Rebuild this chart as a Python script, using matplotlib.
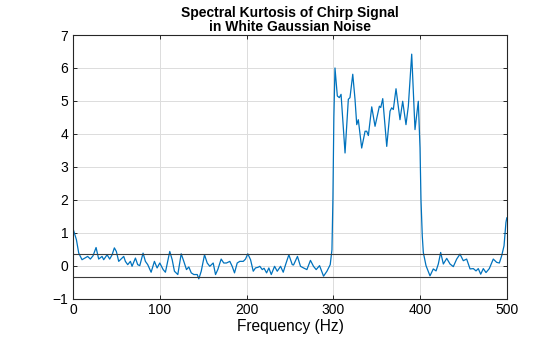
import matplotlib.pyplot as plt

# frequency (Hz) and spectral kurtosis values
freq = [0, 3.5, 6.2, 10, 13.9, 16.5, 19.6, 22.7, 26.2, 29.2, 33.1, 35, 38.9, 41.9,
        44.7, 47.3, 49.6, 52.3, 55, 58.1, 60, 62.7, 65.8, 67.7, 71.6, 74.2, 76.6,
        80.4, 83.1, 85.8, 89.7, 93.5, 96.6, 99.7, 103.6, 106.2, 111.2, 114, 116.6,
        120.5, 124.4, 127.4, 130.5, 133.2, 136, 139, 142.9, 144.7, 147.5, 151.3,
        154.4, 157.4, 161.3, 164, 166.6, 170.5, 173.5, 176.6, 180.5, 183.2, 185.9,
        189, 192, 196, 198.6, 201.2, 204.4, 207.5, 210.1, 213, 215.1, 217.9, 220,
        222.9, 225.5, 228.3, 232.1, 235.2, 239, 242.1, 244.8, 248.6, 252.5, 254,
        258.5, 262, 265.5, 269.4, 273.5, 277, 280.1, 284, 288.6, 292.5, 296.3,
        298.3, 299.4, 300.5, 301.8, 304.5, 306.8, 308.8, 313.4, 317.2, 319.1,
        322.3, 324.9, 326.9, 328.7, 332.6, 336.5, 338.4, 340.3, 344.2, 348, 353,
        354.6, 356.9, 361.5, 365.3, 367.2, 369.1, 372.2, 376.8, 379.9, 383.7,
        386.4, 390.3, 394.1, 397.9, 399.9, 401, 402.5, 403.7, 406.8, 411.4, 415.2,
        418.4, 421, 423.7, 426.8, 430.7, 434.5, 438.3, 442.2, 446, 449.8, 453.7,
        457.6, 461.4, 464.5, 467.1, 469.9, 472.9, 476, 479.8, 484.4, 488.3, 491.4,
        494.1, 496.8, 499, 500]
kurt = [1.09, 0.79, 0.38, 0.18, 0.24, 0.28, 0.2, 0.3, 0.55, 0.2, 0.28, 0.18, 0.33, 0.2,
        0.33, 0.54, 0.43, 0.13, 0.2, 0.28, 0.13, 0.03, 0.13, -0.02, 0.23, 0.03, 0,
        0.38, 0.13, 0.03, -0.2, 0.13, -0.07, 0.08, -0.12, -0.2, 0.43, 0.18, -0.17,
        -0.27, 0.36, 0.13, -0.12, -0.04, -0.22, -0.27, -0.27, -0.4, -0.17, 0.33,
        0.08, -0.02, 0.08, -0.27, -0.12, 0.2, 0.08, 0.08, 0.13, -0.02, -0.22,
        0.08, 0.13, 0.13, 0.2, 0.36, 0.18, -0.17, -0.07, -0.05, -0.02, -0.12, -0.08,
        -0.22, -0.07, -0.27, -0.02, -0.17, -0.02, -0.2, 0.03, 0.33, 0.03, 0.02,
        0.28, -0.02, -0.07, -0.12, 0.16, -0.02, -0.12, 0, -0.32, -0.17, 0.03,
        0.48, 2.0, 4.5, 6.0, 5.15, 5.1, 5.2, 3.42, 5.05, 5.1,
        5.81, 5.05, 4.28, 4.43, 3.57, 4.08, 4.08, 3.95, 4.82, 4.23, 4.84,
        4.8, 5.07, 3.62, 4.69, 4.79, 4.74, 5.37, 4.43, 4.99, 4.28,
        4.84, 6.42, 4.13, 4.99, 3.57, 2.0, 0.9, 0.4, 0, -0.31, -0.1,
        -0.16, 0.05, 0.4, 0.05, 0.22, 0.05, -0.03, 0.2, 0.35, 0.15, 0.2,
        -0.1, -0.09, -0.16, -0.09, -0.26, -0.09, -0.21, -0.09, 0.2, 0.1, 0.08,
        0.3, 0.6, 1.31, 1.45]
thresh = 0.35

plt.rcParams['font.family'] = ['Liberation Sans', 'DejaVu Sans']

fig = plt.figure(figsize=(5.6, 3.37), dpi=100)
ax = fig.add_axes([0.131, 0.114, 0.774, 0.782])

ax.plot(freq, kurt, color='#0072BD', lw=0.9)
ax.axhline(thresh, color='#3c3c3c', lw=0.8)
ax.axhline(-thresh, color='#3c3c3c', lw=0.8)

ax.set_xlim(0, 500)
ax.set_ylim(-1, 7)
ax.set_xticks([0, 100, 200, 300, 400, 500])
ax.set_yticks(range(-1, 8))
ax.grid(True, color='#dcdcdc', lw=0.7)
ax.set_axisbelow(True)
ax.tick_params(direction='in', top=True, right=True, length=3, width=0.7,
               labelsize=10, colors='#262626', labelcolor='black')
for s in ax.spines.values():
    s.set_linewidth(0.8)
    s.set_color('#262626')

ax.set_xlabel('Frequency (Hz)', fontsize=11.2, labelpad=1)
ax.set_title('Spectral Kurtosis of Chirp Signal\nin White Gaussian Noise',
             fontsize=10, fontweight='bold', linespacing=1.0, pad=3)

fig.savefig('out.png', dpi=100)
